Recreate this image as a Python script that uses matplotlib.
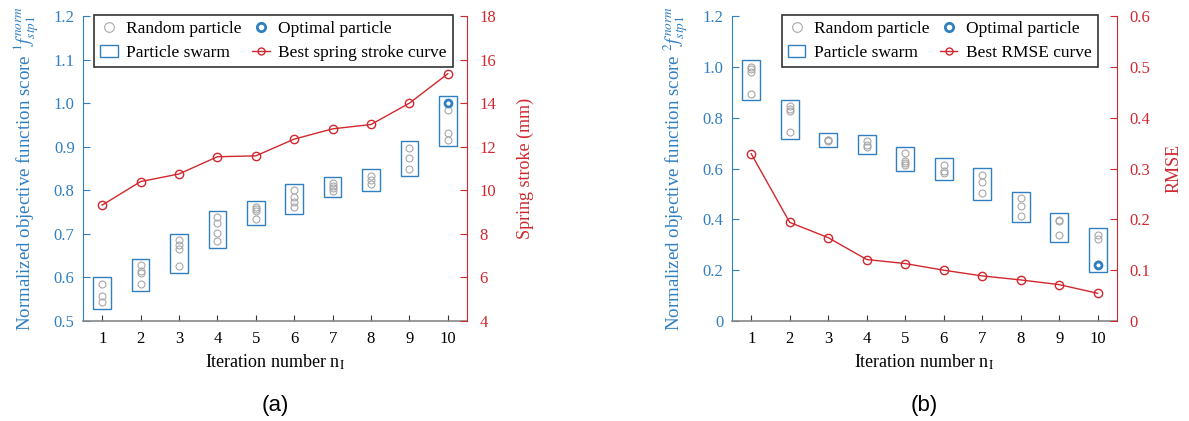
import matplotlib
matplotlib.use("Agg")
import numpy as np
import matplotlib.pyplot as plt
from matplotlib.patches import Rectangle
from matplotlib.lines import Line2D

plt.rcParams['font.family'] = ['Liberation Serif', 'DejaVu Serif']
plt.rcParams['mathtext.fontset'] = 'stix'

BLUE = '#2f7fc1'
RED = '#d0282e'
GRAY = '#a8a8a8'

iterations = list(range(1, 11))

# (a) spring stroke
rand_a = [
    [0.585, 0.558, 0.543],
    [0.628, 0.615, 0.611, 0.585],
    [0.685, 0.674, 0.666, 0.626],
    [0.738, 0.724, 0.701, 0.684],
    [0.761, 0.756, 0.752, 0.735],
    [0.800, 0.785, 0.772, 0.761],
    [0.816, 0.810, 0.805, 0.799],
    [0.833, 0.824, 0.814],
    [0.897, 0.875, 0.849],
    [0.984, 0.931, 0.916],
]
opt_a = [None, None, None, None, None, None, None, None, None, 1.0]
stroke = [9.32, 10.4, 10.75, 11.54, 11.58, 12.35, 12.82, 13.02, 14.0, 15.35]

# (b) RMSE
rand_b = [
    [0.999, 0.992, 0.979, 0.895],
    [0.845, 0.834, 0.825, 0.744],
    [0.714, 0.710, 0.712],
    [0.707, 0.694, 0.683],
    [0.660, 0.631, 0.622, 0.615],
    [0.615, 0.591, 0.583],
    [0.574, 0.548, 0.503],
    [0.482, 0.453, 0.414],
    [0.398, 0.392, 0.339],
    [0.339, 0.322, 0.224],
]
opt_b = [None, None, None, None, None, None, None, None, None, 0.219]
rmse = [0.329, 0.194, 0.164, 0.121, 0.113, 0.100, 0.0887, 0.0808, 0.0716, 0.0545]


def draw_panel(ax, rand, opt, best, ylim, yticks, ylabels, rlim, rticks, rlabels,
               ylabel, rlabel, best_label, legend_anchor, rpad):
    pad = 0.022 * (ylim[1] - ylim[0])
    for x, vals, o in zip(iterations, rand, opt):
        allv = vals + ([o] if o is not None else [])
        lo, hi = min(allv) - pad, max(allv) + pad
        ax.add_patch(Rectangle((x - 0.23, lo), 0.46, hi - lo, fill=False,
                               edgecolor=BLUE, lw=1.0, zorder=2))
        ax.plot([x] * len(vals), vals, 'o', mfc='none', mec=GRAY, ms=5, mew=0.8, zorder=3)
        if o is not None:
            ax.plot([x], [o], 'o', mfc='none', mec=BLUE, ms=5, mew=2.0, zorder=4)

    ax.set_xlim(0.5, 10.5)
    ax.set_ylim(*ylim)
    ax.set_xticks(iterations)
    ax.set_yticks(yticks)
    ax.set_yticklabels(ylabels)
    ax.tick_params(axis='x', direction='in', length=4, colors='#333333', labelsize=12, pad=7)
    ax.tick_params(axis='y', direction='in', length=5, colors=BLUE, labelsize=12, pad=6)
    ax.spines['top'].set_visible(False)
    ax.spines['right'].set_visible(False)
    ax.spines['left'].set_color(BLUE)
    ax.spines['bottom'].set_color('#888888')
    ax.spines['bottom'].set_linewidth(1.2)
    ax.set_xlabel(r'Iteration number n$_\mathrm{I}$', fontsize=13, labelpad=4)
    ax.set_ylabel(ylabel, color=BLUE, fontsize=13.6, labelpad=9)
    for t in ax.get_xticklabels():
        t.set_color('black')

    ax2 = ax.twinx()
    ax2.plot(iterations, best, '-o', color=RED, lw=1.0, ms=6, mfc='none', mew=1.0, zorder=5)
    ax2.set_ylim(*rlim)
    ax2.set_yticks(rticks)
    ax2.set_yticklabels(rlabels)
    ax2.tick_params(axis='y', direction='in', length=5, colors=RED, labelsize=12, pad=9)
    for s in ['top', 'left', 'bottom']:
        ax2.spines[s].set_visible(False)
    ax2.spines['right'].set_color(RED)
    ax2.set_ylabel(rlabel, color=RED, fontsize=13, labelpad=rpad)

    handles = [
        Line2D([], [], ls='none', marker='o', mfc='none', mec=GRAY, ms=7, mew=0.8),
        Rectangle((0, 0), 1, 1, fill=False, edgecolor=BLUE, lw=1.0),
        Line2D([], [], ls='none', marker='o', mfc='none', mec=BLUE, ms=6, mew=2.0),
        Line2D([], [], color=RED, lw=1.0, marker='o', mfc='none', ms=5),
    ]
    labels = ['Random particle', 'Particle swarm', 'Optimal particle', best_label]
    leg = ax2.legend(handles, labels, ncol=2, loc='upper right', bbox_to_anchor=legend_anchor,
                     frameon=True, fancybox=False, edgecolor='black', fontsize=12.5,
                     handlelength=1.0, handletextpad=0.5, columnspacing=0.6,
                     borderpad=0.35, labelspacing=0.45, borderaxespad=0)
    leg.get_frame().set_linewidth(1.2)
    return ax2


fig = plt.figure(figsize=(11.89, 4.21), dpi=100)
ax_a = fig.add_axes([0.0698, 0.2375, 0.323, 0.7245])
ax_b = fig.add_axes([0.6156, 0.2375, 0.3238, 0.7245])

draw_panel(ax_a, rand_a, opt_a, stroke,
           (0.5, 1.2), [0.5, 0.6, 0.7, 0.8, 0.9, 1.0, 1.1, 1.2],
           ['0.5', '0.6', '0.7', '0.8', '0.9', '1.0', '1.1', '1.2'],
           (4, 18), [4, 6, 8, 10, 12, 14, 16, 18],
           ['4', '6', '8', '10', '12', '14', '16', '18'],
           r'Normalized objective function score $^{1}f_{stp1}^{norm}$',
           'Spring stroke (mm)', 'Best spring stroke curve', (0.963, 1.003), 15)

draw_panel(ax_b, rand_b, opt_b, rmse,
           (0, 1.2), [0, 0.2, 0.4, 0.6, 0.8, 1.0, 1.2],
           ['0', '0.2', '0.4', '0.6', '0.8', '1.0', '1.2'],
           (0, 0.6), [0, 0.1, 0.2, 0.3, 0.4, 0.5, 0.6],
           ['0', '0.1', '0.2', '0.3', '0.4', '0.5', '0.6'],
           r'Normalized objective function score $^{2}f_{stp1}^{norm}$',
           'RMSE', 'Best RMSE curve', (0.95, 1.003), 11)

fig.text(0.2313, 0.038, '(a)', ha='center', va='center', fontsize=16, family='Liberation Sans')
fig.text(0.7775, 0.038, '(b)', ha='center', va='center', fontsize=16, family='Liberation Sans')

fig.savefig('out.png', dpi=100)
